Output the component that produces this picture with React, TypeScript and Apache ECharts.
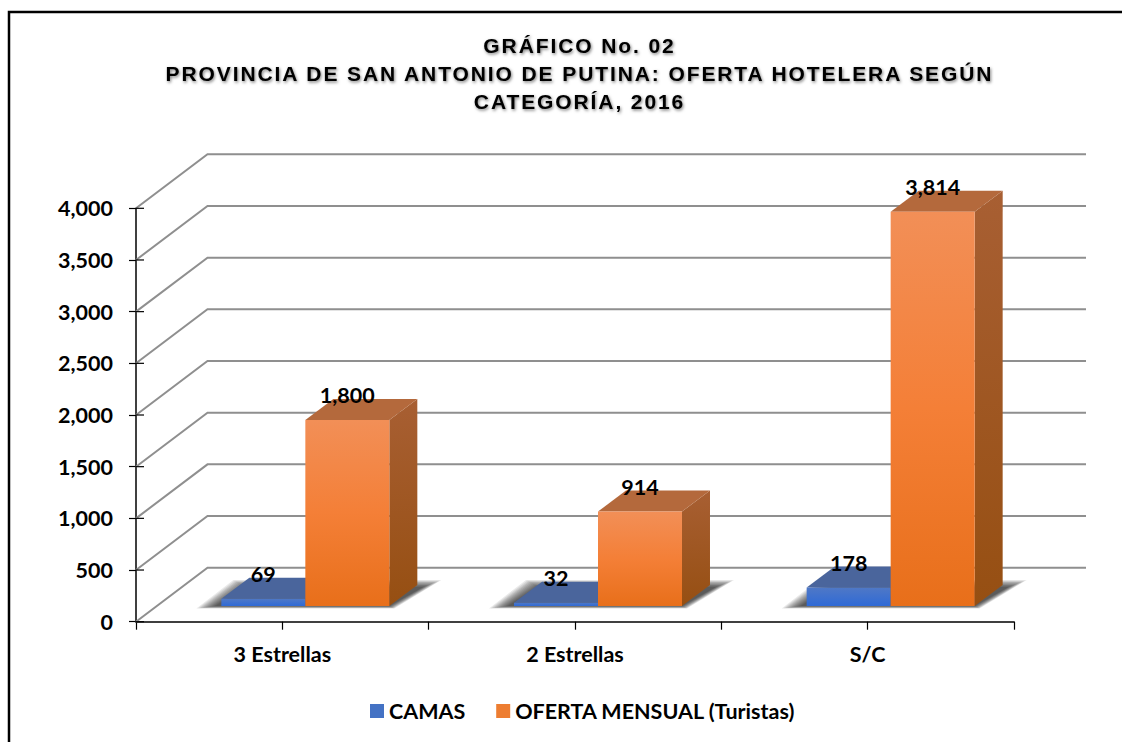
import React, { useEffect, useRef } from "react";
import * as echarts from "echarts";

const titleLines = [
  "GRÁFICO No. 02",
  "PROVINCIA DE SAN ANTONIO DE PUTINA: OFERTA HOTELERA SEGÚN",
  "CATEGORÍA, 2016",
];
const categories = ["3 Estrellas", "2 Estrellas", "S/C"];
const camas = [69, 32, 178];
const oferta = [1800, 914, 3814];
const yTicks = [0, 500, 1000, 1500, 2000, 2500, 3000, 3500, 4000];
const seriesNames = ["CAMAS", "OFERTA MENSUAL (Turistas)"];

const FONT = "Lato";
const LABEL_SIZE = 21.5;
const WALL_DX = 71.5;
const WALL_DY = -54;
const FLOOR_DX = 23;
const FLOOR_DY = -15.7;
const DEPTH_DX = 28;
const DEPTH_DY = -21;
const BAR_RATIO = 0.287;
const SHADOW_LAYERS = [10, 9, 8, 7, 6, 5, 4, 3, 2, 1, 0];

const grad = (stops: string[]) =>
  new echarts.graphic.LinearGradient(
    0,
    0,
    0,
    1,
    stops.map((color, i) => ({ offset: i / (stops.length - 1), color }))
  );

const bar3d = (side: -1 | 1, names: { front: string[]; top: string; right: string[] }) =>
  (params: any, api: any) => {
    const idx = api.value(0);
    const val = api.value(1);
    const [cx0, y0] = api.coord([idx, 0]);
    const yv = api.coord([idx, val])[1];
    const w = api.size([1, 0])[0] * BAR_RATIO;
    const c = cx0 + FLOOR_DX;
    const base = y0 + FLOOR_DY;
    const top = yv + FLOOR_DY;
    const x1 = side < 0 ? c - w : c;
    const x2 = x1 + w;
    const labelX = (x1 + x2) / 2;
    return {
      type: "group",
      children: [
        {
          type: "polygon",
          shape: {
            points: [
              [x2, top],
              [x2 + DEPTH_DX, top + DEPTH_DY],
              [x2 + DEPTH_DX, base + DEPTH_DY],
              [x2, base],
            ],
          },
          style: { fill: grad(names.right) },
        },
        {
          type: "polygon",
          shape: {
            points: [
              [x1, top],
              [x1 + DEPTH_DX, top + DEPTH_DY],
              [x2 + DEPTH_DX, top + DEPTH_DY],
              [x2, top],
            ],
          },
          style: { fill: names.top },
        },
        {
          type: "rect",
          shape: { x: x1, y: top, width: w, height: base - top },
          style: { fill: grad(names.front) },
        },
        {
          type: "text",
          style: {
            text: val.toLocaleString("en-US"),
            x: labelX,
            y: top - 25,
            align: "center",
            verticalAlign: "middle",
            fill: "#000",
            font: `bold ${LABEL_SIZE}px ${FONT}`,
          },
        },
      ],
    };
  };

export default function App() {
  const ref = useRef<HTMLDivElement>(null);
  useEffect(() => {
    document.body.style.margin = "0";
    const chart = echarts.init(ref.current!, undefined, { renderer: "svg" });
    const option: any = {
      animation: false,
      backgroundColor: "#fff",
      title: {
        text: titleLines.join("\n"),
        left: 574.5,
        top: 26,
        textAlign: "center",
        textStyle: {
          fontFamily: "Liberation Sans",
          fontWeight: "bold",
          fontSize: 21,
          lineHeight: 28,
          color: "#000",
          textShadowColor: "rgba(0,0,0,0.5)",
          textShadowBlur: 3,
          textShadowOffsetX: 1,
          textShadowOffsetY: 1.5,
        },
      },
      legend: {
        left: 365,
        top: 695,
        itemWidth: 14,
        itemHeight: 14,
        itemGap: 31,
        icon: "rect",
        selectedMode: false,
        textStyle: { fontFamily: FONT, fontWeight: "bold", fontSize: LABEL_SIZE, color: "#000" },
        data: seriesNames,
      },
      grid: { left: 136, right: 108, top: 208.3, height: 413.4, containLabel: false },
      xAxis: [
        {
          type: "category",
          data: categories,
          axisLine: { lineStyle: { color: "#000", width: 1.5 } },
          axisTick: { show: false },
          axisLabel: { fontFamily: FONT, fontWeight: "bold", fontSize: LABEL_SIZE, color: "#000", margin: 21 },
        },
        {
          type: "category",
          position: "bottom",
          data: ["a", "b", "c", "d", "e", "f"],
          axisLine: { show: false },
          axisTick: { show: true, length: 8, lineStyle: { color: "#000", width: 1.2 } },
          axisLabel: { show: false },
        },
      ],
      yAxis: {
        type: "value",
        min: 0,
        max: 4000,
        interval: 500,
        axisLine: { show: true, lineStyle: { color: "#000", width: 1.5 } },
        axisTick: { show: true, length: 7, lineStyle: { color: "#000", width: 1.2 } },
        splitLine: { show: false },
        axisLabel: {
          fontFamily: FONT,
          fontWeight: "bold",
          fontSize: LABEL_SIZE,
          color: "#000",
          margin: 23,
          formatter: (v: number) => v.toLocaleString("en-US"),
        },
      },
      series: [
        {
          type: "custom",
          name: "walls",
          silent: true,
          clip: false,
          z: 1,
          encode: { x: 0, y: 1 },
          data: yTicks.map((v) => [0, v]),
          renderItem: (params: any, api: any) => {
            const cs = params.coordSys;
            const y = api.coord([0, api.value(1)])[1];
            const lineStyle = { stroke: "#8f8f8f", lineWidth: 2, fill: "none" };
            return {
              type: "group",
              children: [
                {
                  type: "polyline",
                  shape: {
                    points: [
                      [cs.x, y],
                      [cs.x + WALL_DX, y + WALL_DY],
                      [cs.x + cs.width + WALL_DX + 0.5, y + WALL_DY],
                    ],
                  },
                  style: lineStyle,
                },
                {
                  type: "line",
                  shape: { x1: cs.x, y1: y, x2: cs.x + 8, y2: y },
                  style: { stroke: "#000", lineWidth: 1.2 },
                },
              ],
            };
          },
        },
        {
          type: "custom",
          name: "shadow",
          silent: true,
          clip: false,
          z: 2,
          encode: { x: 0, y: 1 },
          data: categories.map((_, i) => [i, 0]),
          renderItem: (params: any, api: any) => {
            const [cx0, y0] = api.coord([api.value(0), 0]);
            const w = api.size([1, 0])[0] * BAR_RATIO;
            const c = cx0 + FLOOR_DX;
            const base = y0 + FLOOR_DY;
            return {
              type: "group",
              children: SHADOW_LAYERS.map((e) => ({
                type: "polygon",
                shape: {
                  points: [
                    [c - w - 6 - e * 1.9, base + e * 0.25],
                    [c - w + 24 - e * 1.2, base - 19 - e * 0.7],
                    [c + w + 34 + e * 1.8, base - 19 - e * 0.7],
                    [c + w + e * 0.5, base + e * 0.25],
                  ],
                },
                style: { fill: "rgba(0,0,0,0.085)" },
              })),
            };
          },
        },
        {
          type: "custom",
          name: seriesNames[0],
          clip: false,
          z: 3,
          itemStyle: { color: "#4472c4" },
          encode: { x: 0, y: 1 },
          data: camas.map((v, i) => [i, v]),
          renderItem: bar3d(-1, {
            front: ["#4f78c6", "#2f6ad6"],
            top: "#4a659c",
            right: ["#3b5a9a", "#3b5a9a"],
          }),
        },
        {
          type: "custom",
          name: seriesNames[1],
          clip: false,
          z: 4,
          itemStyle: { color: "#ed7d31" },
          encode: { x: 0, y: 1 },
          data: oferta.map((v, i) => [i, v]),
          renderItem: bar3d(1, {
            front: ["#f28f57", "#f47f37", "#e86f1a"],
            top: "#b4693c",
            right: ["#a85f33", "#964f12"],
          }),
        },
      ],
      graphic: [
        {
          type: "polyline",
          z: 10,
          silent: true,
          shape: { points: [[9, 742], [9, 12], [1122, 12]] },
          style: { stroke: "#000", lineWidth: 2.5, fill: "none" },
        },
      ],
    };
    chart.setOption(option);
    return () => chart.dispose();
  }, []);
  return (
    <>
      <style>{`svg text[style*="Liberation Sans"]{letter-spacing:1.9px}`}</style>
      <div ref={ref} style={{ position: "fixed", left: 0, top: 0, width: 1122, height: 742 }} />
    </>
  );
}
